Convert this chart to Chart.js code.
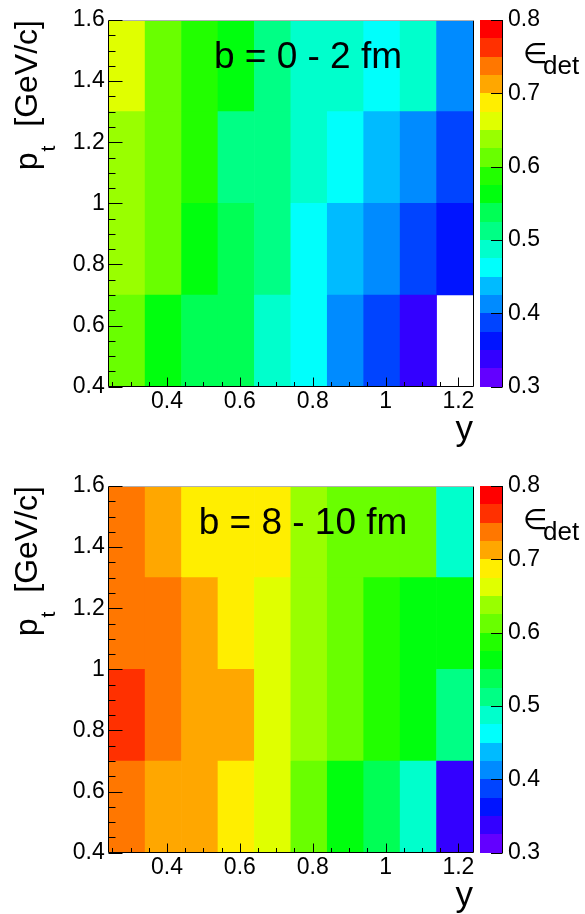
<!DOCTYPE html>
<html>
<head>
<meta charset="utf-8">
<script src="https://cdn.jsdelivr.net/npm/chart.js@4.4.1/dist/chart.umd.min.js"></script>
<style>
  html, body { margin: 0; padding: 0; background: #fff; }
  body { width: 585px; height: 914px; position: relative; overflow: hidden; }
  .panel { position: absolute; left: 0; width: 585px; height: 448px; }
</style>
</head>
<body>
<div class="panel" style="top:0"><canvas id="central"></canvas></div>
<div class="panel" style="top:466px"><canvas id="peripheral"></canvas></div>
<script>
// rapidity bin centres (bin width 0.1) and pt bin edges
const rapidity = [0.29, 0.39, 0.49, 0.59, 0.69, 0.79, 0.89, 0.99, 1.09, 1.19];
const ptEdges = [0.4, 0.7, 1.0, 1.3, 1.6];

// tick labels
const rapidityTicks = [0.4, 0.6, 0.8, 1, 1.2];
const ptTicks = [0.4, 0.6, 0.8, 1, 1.2, 1.4, 1.6];
const effTicks = [0.3, 0.4, 0.5, 0.6, 0.7, 0.8];

// b = 0 - 2 fm, one array per pt bin (low to high), null = empty bin
const central_pt1 = [0.612, 0.562, 0.537, 0.537, 0.487, 0.462, 0.412, 0.387, 0.337, null];
const central_pt2 = [0.637, 0.612, 0.562, 0.537, 0.512, 0.462, 0.437, 0.412, 0.387, 0.362];
const central_pt3 = [0.637, 0.612, 0.587, 0.512, 0.512, 0.487, 0.462, 0.437, 0.412, 0.387];
const central_pt4 = [0.662, 0.612, 0.587, 0.562, 0.512, 0.487, 0.487, 0.462, 0.487, 0.412];

// b = 8 - 10 fm
const periph_pt1 = [0.737, 0.712, 0.712, 0.687, 0.662, 0.612, 0.562, 0.537, 0.487, 0.337];
const periph_pt2 = [0.762, 0.737, 0.712, 0.712, 0.662, 0.637, 0.612, 0.587, 0.562, 0.512];
const periph_pt3 = [0.737, 0.737, 0.712, 0.687, 0.662, 0.637, 0.612, 0.587, 0.562, 0.562];
const periph_pt4 = [0.737, 0.712, 0.687, 0.687, 0.687, 0.637, 0.612, 0.612, 0.612, 0.487];

const zMin = 0.3, zMax = 0.8, nLevels = 20;
const zStep = (zMax - zMin) / nLevels;

Chart.defaults.font.family = '"Liberation Sans", Arial, sans-serif';
Chart.defaults.color = '#000';

// ROOT "pretty" palette (50 hues violet -> red), picked per contour level
function levelColor(k) {
  const idx = Math.floor((k + 0.99) * 50 / nLevels);
  const hue = idx >= 49 ? 0 : 280 - (idx + 1) * 5.6;
  return 'hsl(' + hue + ',100%,50%)';
}
function paletteColor(v) {
  let k = Math.floor((v - zMin) / zStep);
  k = Math.max(0, Math.min(nLevels - 1, k));
  return levelColor(k);
}

function minorTicks(majors, min, max) {
  const step = (majors[1] - majors[0]) / 4;
  const out = [];
  for (let i = Math.ceil((min - majors[0]) / step - 1e-6); majors[0] + i * step <= max + 1e-9; i++) {
    out.push({ v: majors[0] + i * step, major: i % 4 === 0 });
  }
  return out;
}

const rootDecor = {
  id: 'rootDecor',
  afterDraw(chart, args, opts) {
    const { ctx, chartArea: a, scales: { x, y, z } } = chart;
    ctx.save();
    ctx.strokeStyle = '#000';
    ctx.lineWidth = 1;
    const L = Math.floor(a.left) + 0.5, B = Math.floor(a.bottom) + 0.5;
    const R = Math.floor(a.right) + 0.5, T = Math.floor(a.top) + 0.5;

    // frame
    ctx.beginPath();
    ctx.moveTo(L, T); ctx.lineTo(L, B); ctx.lineTo(R, B); ctx.lineTo(R, T);
    ctx.stroke();
    ctx.strokeStyle = '#b0b0b0';
    ctx.beginPath(); ctx.moveTo(L, T); ctx.lineTo(R, T); ctx.stroke();
    ctx.strokeStyle = '#000';

    // inward ticks
    ctx.beginPath();
    minorTicks(rapidityTicks, x.min, x.max).forEach(t => {
      const px = Math.round(x.getPixelForValue(t.v)) + 0.5;
      ctx.moveTo(px, B); ctx.lineTo(px, B - (t.major ? 9 : 4.5));
    });
    minorTicks(ptTicks, y.min, y.max).forEach(t => {
      const py = Math.round(y.getPixelForValue(t.v)) + 0.5;
      ctx.moveTo(L, py); ctx.lineTo(L + (t.major ? 14 : 7), py);
    });
    ctx.stroke();

    // colour bar
    const cbL = Math.round(a.right) + 7, cbR = Math.round(a.right) + 29;
    for (let k = 0; k < nLevels; k++) {
      const yTop = Math.round(z.getPixelForValue(zMin + (k + 1) * zStep));
      const yBot = Math.round(z.getPixelForValue(zMin + k * zStep));
      ctx.fillStyle = levelColor(k);
      ctx.fillRect(cbL, yTop, cbR - cbL, yBot - yTop);
    }
    ctx.beginPath();
    ctx.moveTo(cbR + 0.5, Math.round(z.getPixelForValue(zMax)));
    ctx.lineTo(cbR + 0.5, Math.round(z.getPixelForValue(zMin)));
    effTicks.forEach(v => {
      const py = Math.round(z.getPixelForValue(v)) + 0.5;
      ctx.moveTo(cbR + 0.5, py); ctx.lineTo(cbR - 11, py);
    });
    ctx.stroke();

    ctx.fillStyle = '#000';
    ctx.font = '23px "Liberation Sans", Arial, sans-serif';
    ctx.textAlign = 'left';
    ctx.textBaseline = 'middle';
    effTicks.forEach(v => {
      ctx.fillText(String(v), cbR + 6, z.getPixelForValue(v));
    });

    // z title
    ctx.textBaseline = 'alphabetic';
    ctx.font = '28px "DejaVu Sans", sans-serif';
    ctx.fillText('\u2208', a.right + 50, a.top + 43);
    ctx.font = '26px "Liberation Sans", Arial, sans-serif';
    ctx.fillText('det', a.right + 70, a.top + 54);

    // panel label
    ctx.font = '37px "Liberation Sans", Arial, sans-serif';
    ctx.textAlign = 'center';
    ctx.fillText(opts.label, opts.labelX, a.top + 48);

    // x title
    ctx.font = '35px "Liberation Sans", Arial, sans-serif';
    ctx.textAlign = 'right';
    ctx.fillText('y', a.right, a.bottom + 53);

    // y title: p_t [GeV/c], rotated
    ctx.translate(37, a.top);
    ctx.rotate(-Math.PI / 2);
    ctx.textAlign = 'left';
    ctx.font = '32px "Liberation Sans", Arial, sans-serif';
    const wUnit = ctx.measureText('[GeV/c]').width;
    const wp = ctx.measureText('p').width;
    ctx.font = '21px "Liberation Sans", Arial, sans-serif';
    const wt = ctx.measureText('t').width;
    const gap = 20;
    let sx = -(wp + wt + gap + wUnit);
    ctx.font = '32px "Liberation Sans", Arial, sans-serif';
    ctx.fillText('p', sx, 0);
    ctx.font = '21px "Liberation Sans", Arial, sans-serif';
    ctx.fillText('t', sx + wp + 1, 18);
    ctx.font = '32px "Liberation Sans", Arial, sans-serif';
    ctx.fillText('[GeV/c]', -wUnit, 0);
    ctx.restore();
  }
};

function makeChart(id, rows, label, labelX) {
  const datasets = rows.map((vals, r) => ({
    data: rapidity
      .map((yv, i) => ({ x: yv, y: [ptEdges[r], ptEdges[r + 1]], v: vals[i] }))
      .filter(d => d.v !== null),
    backgroundColor: c => (c.raw ? paletteColor(c.raw.v) : '#fff'),
    borderWidth: 0,
    grouped: false,
    barPercentage: 1,
    categoryPercentage: 1
  }));

  return new Chart(document.getElementById(id), {
    type: 'bar',
    data: { datasets: datasets },
    options: {
      responsive: true,
      maintainAspectRatio: false,
      devicePixelRatio: 1,
      animation: false,
      events: [],
      layout: { padding: { top: 20, right: 112, left: 0, bottom: 0 } },
      plugins: {
        legend: { display: false },
        tooltip: { enabled: false },
        rootDecor: { label: label, labelX: labelX }
      },
      scales: {
        x: {
          type: 'linear', min: 0.24, max: 1.24, offset: false,
          grid: { display: false, drawTicks: false }, border: { display: false },
          afterBuildTicks: s => { s.ticks = rapidityTicks.map(v => ({ value: v })); },
          afterFit: s => { s.height = 61.3; },
          ticks: { autoSkip: false, maxRotation: 0, padding: 1, font: { size: 23 }, callback: v => String(v) }
        },
        y: {
          type: 'linear', min: 0.4, max: 1.6,
          grid: { display: false, drawTicks: false }, border: { display: false },
          afterBuildTicks: s => { s.ticks = ptTicks.map(v => ({ value: v })); },
          afterFit: s => { s.width = 108.7; },
          ticks: { autoSkip: false, padding: 4, font: { size: 23 }, callback: v => String(v) }
        },
        z: { type: 'linear', position: 'right', display: false, min: zMin, max: zMax }
      }
    },
    plugins: [rootDecor]
  });
}

makeChart('central', [central_pt1, central_pt2, central_pt3, central_pt4], 'b = 0 - 2 fm', 308);
makeChart('peripheral', [periph_pt1, periph_pt2, periph_pt3, periph_pt4], 'b = 8 - 10 fm', 303);
</script>
</body>
</html>
